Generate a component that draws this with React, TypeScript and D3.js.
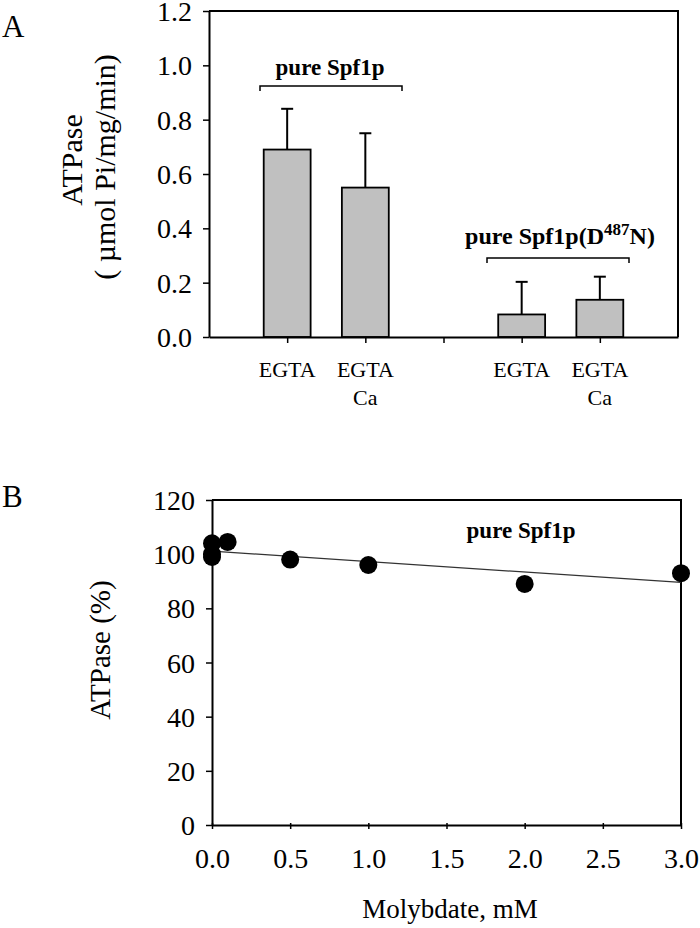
import React, { useEffect, useRef } from 'react';
import * as d3 from 'd3';

// panel A: ATPase activity, bars with upper error bars
const barPos = [1, 2, 4, 5];
const barLabels = [['EGTA'], ['EGTA', 'Ca'], ['EGTA'], ['EGTA', 'Ca']];
const barValues = [0.69, 0.55, 0.083, 0.137];
const barErrors = [0.15, 0.2, 0.12, 0.085];
const barTicks = [1, 2, 3, 4, 5];
const yTicksA = [0, 0.2, 0.4, 0.6, 0.8, 1.0, 1.2];

// panel B: ATPase (%) vs molybdate
const molyX = [0, 0, 0, 0.1, 0.5, 1, 2, 3];
const molyY = [104, 99, 100, 104.5, 98, 96, 89, 93];
const xTicksB = [0, 0.5, 1, 1.5, 2, 2.5, 3];
const yTicksB = [0, 20, 40, 60, 80, 100, 120];

const FONT = '"Liberation Serif", "Times New Roman", serif';

function styleAxis(g: any) {
  g.select('.domain').attr('stroke', '#000').attr('stroke-width', 2);
  g.selectAll('.tick line').attr('stroke', '#000').attr('stroke-width', 1.5);
  g.selectAll('.tick text')
    .attr('fill', '#000')
    .style('font-family', FONT)
    .style('font-size', '28px');
}

export default function App() {
  const ref = useRef<SVGSVGElement>(null);

  useEffect(() => {
    const svg = d3.select(ref.current);
    svg.selectAll('*').remove();

    // ---------- panel A ----------
    const xA = d3.scaleLinear().domain([0, 6]).range([209, 678]);
    const yA = d3.scaleLinear().domain([0, 1.2]).range([337, 11]);
    const bw = xA(0.6) - xA(0);

    svg.append('text').attr('x', 2).attr('y', 37).text('A')
      .style('font-family', FONT).style('font-size', '31px');

    // box top/right
    svg.append('path')
      .attr('d', `M${xA(0)},${yA(1.2)}H${xA(6)}V${yA(0)}`)
      .attr('fill', 'none').attr('stroke', '#000').attr('stroke-width', 2);

    const bars = svg.append('g');
    barPos.forEach((p, i) => {
      const cx = xA(p);
      const top = barValues[i] + barErrors[i];
      // error bar (upper only)
      bars.append('line')
        .attr('x1', cx).attr('x2', cx)
        .attr('y1', yA(barValues[i])).attr('y2', yA(top))
        .attr('stroke', '#000').attr('stroke-width', 2);
      bars.append('line')
        .attr('x1', cx - 6).attr('x2', cx + 6)
        .attr('y1', yA(top)).attr('y2', yA(top))
        .attr('stroke', '#000').attr('stroke-width', 2);
      bars.append('rect')
        .attr('x', cx - bw / 2).attr('width', bw)
        .attr('y', yA(barValues[i])).attr('height', yA(0) - yA(barValues[i]))
        .attr('fill', '#c0c0c0').attr('stroke', '#000').attr('stroke-width', 1.8);
      barLabels[i].forEach((t, j) => {
        svg.append('text')
          .attr('x', cx).attr('y', 377 + j * 28)
          .attr('text-anchor', 'middle').text(t)
          .style('font-family', FONT).style('font-size', '22px');
      });
    });

    const axA = svg.append('g').attr('transform', `translate(${xA(0)},0)`)
      .call(d3.axisLeft(yA).tickValues(yTicksA).tickFormat(d3.format('.1f')).tickSize(6).tickSizeOuter(0).tickPadding(11));
    styleAxis(axA);
    axA.selectAll('.tick text').attr('dy', '0.34em');
    const bxA = svg.append('g').attr('transform', `translate(0,${yA(0)})`)
      .call(d3.axisBottom(xA).tickValues(barTicks).tickFormat(() => '').tickSize(6).tickSizeOuter(0));
    styleAxis(bxA);

    // group brackets
    const bracket = (x0: number, x1: number, y: number) =>
      svg.append('path')
        .attr('d', `M${x0},${y + 5}V${y}H${x1}V${y + 5}`)
        .attr('fill', 'none').attr('stroke', '#000').attr('stroke-width', 1.5);
    bracket(260, 402, 86);
    bracket(487, 629, 258);
    svg.append('text').attr('x', 330).attr('y', 75).attr('text-anchor', 'middle')
      .text('pure Spf1p')
      .style('font-family', FONT).style('font-size', '23px').style('font-weight', 'bold');
    const t2 = svg.append('text').attr('x', 560).attr('y', 244).attr('text-anchor', 'middle')
      .style('font-family', FONT).style('font-size', '24px').style('font-weight', 'bold');
    t2.append('tspan').text('pure Spf1p(D');
    t2.append('tspan').text('487').attr('dy', -9).style('font-size', '17px');
    t2.append('tspan').text('N)').attr('dy', 9);

    svg.append('text')
      .attr('transform', 'translate(82,160) rotate(-90)')
      .attr('text-anchor', 'middle').text('ATPase')
      .style('font-family', FONT).style('font-size', '30px');
    svg.append('text')
      .attr('transform', 'translate(115,167) rotate(-90)')
      .attr('text-anchor', 'middle').text('( µmol Pi/mg/min)')
      .style('font-family', FONT).style('font-size', '30px');

    // ---------- panel B ----------
    const xB = d3.scaleLinear().domain([0, 3]).range([212, 681]);
    const yB = d3.scaleLinear().domain([0, 120]).range([825, 500]);

    svg.append('text').attr('x', 2).attr('y', 507).text('B')
      .style('font-family', FONT).style('font-size', '31px');

    svg.append('path')
      .attr('d', `M${xB(0)},${yB(120)}H${xB(3)}V${yB(0)}`)
      .attr('fill', 'none').attr('stroke', '#000').attr('stroke-width', 2);

    const axB = svg.append('g').attr('transform', `translate(${xB(0)},0)`)
      .call(d3.axisLeft(yB).tickValues(yTicksB).tickSize(6).tickSizeOuter(0).tickPadding(11));
    styleAxis(axB);
    axB.selectAll('.tick text').attr('dy', '0.34em');
    const bxB = svg.append('g').attr('transform', `translate(0,${yB(0)})`)
      .call(d3.axisBottom(xB).tickValues(xTicksB).tickFormat(d3.format('.1f')).tickSize(5).tickSizeOuter(0).tickPadding(18));
    styleAxis(bxB);
    bxB.selectAll('.tick line').attr('y1', -2).attr('y2', 4);

    // least squares fit of the points
    const mx = d3.mean(molyX) as number;
    const my = d3.mean(molyY) as number;
    const slope = d3.sum(molyX, (x, i) => (x - mx) * (molyY[i] - my)) / d3.sum(molyX, (x) => (x - mx) ** 2);
    const icpt = my - slope * mx;
    const fit = d3.line<number>().x((x) => xB(x)).y((x) => yB(icpt + slope * x));
    svg.append('path').attr('d', fit([0, 3]))
      .attr('fill', 'none').attr('stroke', '#333').attr('stroke-width', 1.2);

    svg.append('g').selectAll('circle')
      .data(molyX)
      .enter()
      .append('circle')
      .attr('cx', (d) => xB(d))
      .attr('cy', (d, i) => yB(molyY[i]))
      .attr('r', 9)
      .attr('fill', '#000');

    svg.append('text').attr('x', 521).attr('y', 538).attr('text-anchor', 'middle')
      .text('pure Spf1p')
      .style('font-family', FONT).style('font-size', '23px').style('font-weight', 'bold');

    svg.append('text')
      .attr('transform', 'translate(110,650) rotate(-90)')
      .attr('text-anchor', 'middle').text('ATPase (%)')
      .style('font-family', FONT).style('font-size', '29px');
    svg.append('text')
      .attr('x', 450).attr('y', 918).attr('text-anchor', 'middle')
      .text('Molybdate, mM')
      .style('font-family', FONT).style('font-size', '27px');
  }, []);

  return (
    <svg ref={ref} width={700} height={928}
      style={{ position: 'absolute', left: 0, top: 0, background: '#fff' }} />
  );
}
